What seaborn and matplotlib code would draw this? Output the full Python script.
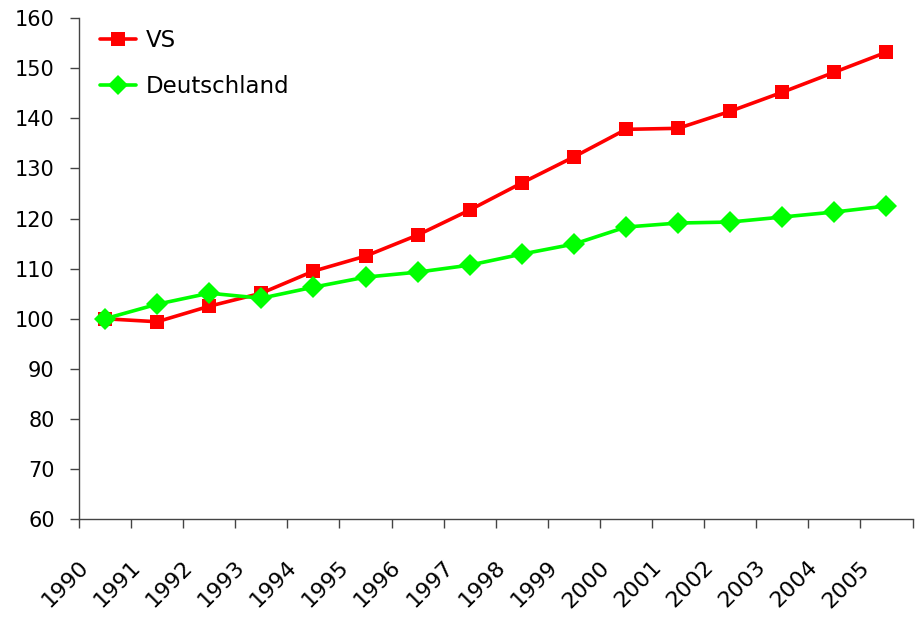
import matplotlib
matplotlib.use("Agg")
import matplotlib.pyplot as plt
import matplotlib.transforms as mtransforms
import pandas as pd
import seaborn as sns

# data
years = list(range(1990, 2006))
vs = [100, 99.4, 102.5, 105.1, 109.5, 112.5, 116.7, 121.7, 127.1, 132.3,
      137.8, 138.0, 141.4, 145.2, 149.2, 153.2]
deutschland = [100, 102.9, 105.1, 104.1, 106.3, 108.3, 109.3, 110.7, 112.9, 114.9,
               118.3, 119.1, 119.3, 120.3, 121.3, 122.5]
series_names = ["VS", "Deutschland"]
series_colors = ["#FF0000", "#00FF00"]

df = pd.DataFrame({
    "year": years * 2,
    "value": vs + deutschland,
    "series": [series_names[0]] * len(years) + [series_names[1]] * len(years),
})

sns.set_style("white")
plt.rcParams["font.family"] = ["DejaVu Sans"]
plt.rcParams["text.color"] = "black"
plt.rcParams["xtick.color"] = "black"
plt.rcParams["ytick.color"] = "black"

fig = plt.figure(figsize=(9.21, 6.24), dpi=100)
ax = fig.add_axes([0.0858, 0.168, 0.905, 0.803])

sns.lineplot(data=df, x="year", y="value", hue="series", style="series",
             palette=series_colors, markers=["s", "D"], dashes=False,
             markersize=10, markeredgewidth=0, linewidth=2.6, ax=ax)
# diamonds a little larger than the squares
ax.lines[1].set_markersize(11)

ax.set_xlim(years[0] - 0.5, years[-1] + 0.5)
ax.set_ylim(60, 160)
ax.set_yticks(range(60, 161, 10))
ax.set_xlabel("")
ax.set_ylabel("")

# category labels under the centres, boundary ticks between them
ax.set_xticks(years)
ax.set_xticklabels([str(y) for y in years], rotation=45, ha="right",
                   rotation_mode="anchor", fontsize=16)
ax.set_xticks([y - 0.5 for y in years] + [years[-1] + 0.5], minor=True)
ax.tick_params(axis="x", which="major", length=0, labelcolor="black")
ax.tick_params(axis="x", which="minor", length=6.5, width=1, color="#444444",
               direction="out", bottom=True)
ax.tick_params(axis="y", length=6.5, width=1, color="#444444", direction="out",
               left=True, labelsize=15, pad=11, labelcolor="black")
shift = mtransforms.ScaledTranslation(-0.27, -0.33, fig.dpi_scale_trans)
for lbl in ax.get_xticklabels():
    lbl.set_transform(lbl.get_transform() + shift)

for side in ["top", "right"]:
    ax.spines[side].set_visible(False)
for side in ["left", "bottom"]:
    ax.spines[side].set_color("#444444")
    ax.spines[side].set_linewidth(1)

leg = ax.legend(loc="upper left", frameon=False, fontsize=16.5,
                bbox_to_anchor=(0.0, 1.02), labelspacing=1.0,
                handlelength=1.6, handletextpad=0.4)
for t in leg.get_texts():
    t.set_color("black")

fig.savefig("out.png", dpi=100, facecolor="white")
